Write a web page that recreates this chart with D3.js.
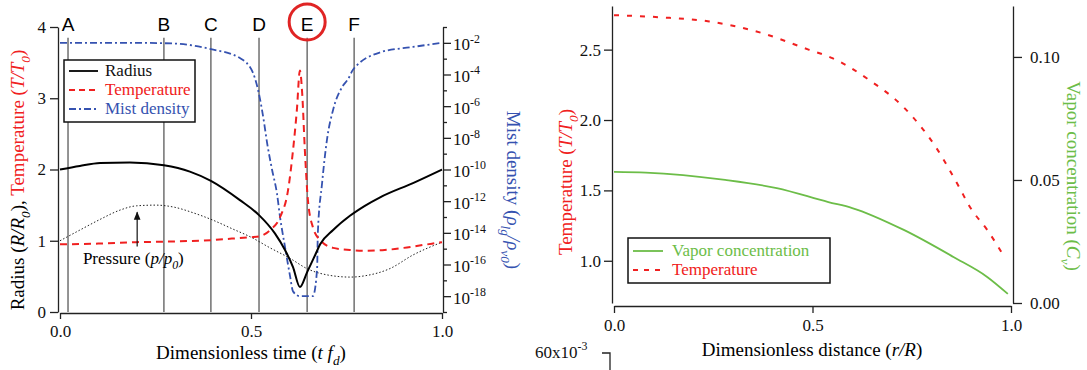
<!DOCTYPE html>
<html>
<head>
<meta charset="utf-8">
<script src="https://cdn.jsdelivr.net/npm/d3@7"></script>
<style>
  body { margin: 0; background: #fff; }
  svg { display: block; }
</style>
</head>
<body>
<div id="chart"></div>
<script>
// ---- left panel: bubble collapse over one cycle ----
const phaseT = [0.021, 0.272, 0.395, 0.521, 0.647, 0.77];
const phaseLabels = ['A', 'B', 'C', 'D', 'E', 'F'];

const radiusT = [0, 0.052, 0.105, 0.183, 0.272, 0.34, 0.395, 0.471, 0.521, 0.563, 0.589, 0.61, 0.628, 0.647, 0.668, 0.681, 0.715, 0.759, 0.798, 0.838, 0.924, 1.0];
const radius = [2.0, 2.05, 2.09, 2.1, 2.06, 1.97, 1.84, 1.57, 1.36, 1.1, 0.87, 0.63, 0.35, 0.56, 0.8, 0.95, 1.15, 1.35, 1.49, 1.61, 1.81, 2.0];

const tempT = [0, 0.1, 0.2, 0.3, 0.4, 0.45, 0.5, 0.521, 0.55, 0.576, 0.597, 0.61, 0.62, 0.628, 0.634, 0.641, 0.649, 0.662, 0.681, 0.715, 0.759, 0.8, 0.85, 0.9, 0.95, 1.0];
const temp = [0.95, 0.96, 0.98, 0.99, 1.01, 1.03, 1.05, 1.06, 1.15, 1.33, 1.71, 2.27, 2.83, 3.39, 3.07, 2.27, 1.57, 1.19, 1.01, 0.9, 0.87, 0.86, 0.87, 0.9, 0.94, 0.98];

const mistT = [0, 0.2, 0.3, 0.395, 0.471, 0.505, 0.524, 0.534, 0.542, 0.555, 0.568, 0.576, 0.589, 0.602, 0.61, 0.628, 0.662, 0.673, 0.675, 0.686, 0.699, 0.715, 0.741, 0.754, 0.767, 0.838, 0.924, 1.0];
const mist = [1e-2, 1e-2, 9e-3, 4e-3, 1.1e-3, 1.3e-4, 2.5e-6, 1e-7, 5e-9, 1e-10, 3e-12, 1e-13, 1.3e-15, 2e-17, 2e-18, 1e-18, 1e-18, 5e-17, 1e-14, 1.3e-11, 8e-9, 6e-7, 2e-5, 5e-5, 2e-4, 2.5e-3, 5.5e-3, 1e-2];

const pressT = [0, 0.052, 0.105, 0.157, 0.2, 0.25, 0.3, 0.35, 0.4, 0.45, 0.5, 0.55, 0.6, 0.65, 0.7, 0.76, 0.8, 0.864, 0.924, 1.0];
const pressure = [1.0, 1.15, 1.3, 1.43, 1.49, 1.5, 1.47, 1.39, 1.29, 1.17, 1.05, 0.9, 0.76, 0.6, 0.52, 0.49, 0.51, 0.61, 0.8, 0.98];

// ---- right panel: radial profiles ----
const distR = [0, 0.116, 0.24, 0.37, 0.49, 0.55, 0.645, 0.73, 0.81, 0.87, 0.897, 0.94, 0.985];
const tempR = [2.745, 2.73, 2.7, 2.62, 2.5, 2.44, 2.28, 2.09, 1.81, 1.52, 1.38, 1.22, 1.02];
const vaporR = [0, 0.08, 0.28, 0.41, 0.54, 0.6, 0.73, 0.855, 0.94, 0.992];
const vapor = [0.0533, 0.053, 0.05, 0.0467, 0.041, 0.0386, 0.0297, 0.0187, 0.0106, 0.0037];

const RED = '#f02020', BLUE = '#3552b0', GREEN = '#6cbd48';
const SERIF = '"Liberation Serif", "Times New Roman", serif';
const SANS = '"Liberation Sans", Arial, sans-serif';

const svg = d3.select('#chart').append('svg')
  .attr('width', 1087).attr('height', 370);

// rich text helper: parts with italic / subscript / superscript
function rich(sel, parts, size) {
  let shift = 0;
  sel.style('font-size', size + 'px');
  parts.forEach(p => {
    const target = p.sub ? size * 0.3 : p.sup ? -size * 0.45 : 0;
    const ts = sel.append('tspan').text(p.t).attr('dy', target - shift);
    shift = target;
    if (p.sub || p.sup) ts.style('font-size', (size * 0.7) + 'px');
    if (p.it) ts.style('font-style', 'italic');
    if (p.fill) ts.attr('fill', p.fill);
  });
}

const zip = (xs, ys) => xs.map((x, i) => [x, ys[i]]);

function styleAxis(g) {
  g.attr('font-family', null).attr('font-size', null);
  g.selectAll('path, line').attr('stroke', '#222').attr('stroke-width', 1.3);
  g.selectAll('text').attr('fill', '#111').style('font-size', '17px');
}

// =================== LEFT PANEL ===================
const xL = d3.scaleLinear().domain([0, 1]).range([60, 442]);
const yL = d3.scaleLinear().domain([0, 4]).range([312, 27]);
const yM = d3.scaleLog().domain([1e-19, 1e-1]).range([312, 27]);

// phase markers
phaseT.forEach((t, i) => {
  svg.append('line')
    .attr('x1', xL(t)).attr('x2', xL(t))
    .attr('y1', yL(3.85)).attr('y2', yL(0))
    .attr('stroke', '#707070').attr('stroke-width', 1.5);
  svg.append('text').attr('class', 'sans')
    .attr('x', xL(t)).attr('y', yL(3.94))
    .attr('text-anchor', 'middle')
    .style('font-size', '19px')
    .text(phaseLabels[i]);
});
svg.append('circle')
  .attr('cx', xL(phaseT[4])).attr('cy', 22).attr('r', 18)
  .attr('fill', 'none').attr('stroke', '#e02424').attr('stroke-width', 3);

// axes
svg.append('g')
  .attr('transform', 'translate(58,0)')
  .call(d3.axisLeft(yL).tickValues([0, 1, 2, 3, 4]).tickFormat(d3.format('d'))
    .tickSize(8).tickSizeOuter(0).tickPadding(4))
  .call(styleAxis);

svg.append('g')
  .attr('transform', 'translate(0,313)')
  .call(d3.axisBottom(xL).tickValues([0, 0.5, 1]).tickFormat(d3.format('.1f'))
    .tickSize(6).tickSizeOuter(0).tickPadding(6))
  .call(styleAxis);

const logTicks = d3.range(-19, 0).map(e => Math.pow(10, e));
const mAxis = svg.append('g')
  .attr('transform', 'translate(443,0)')
  .call(d3.axisRight(yM).tickValues(logTicks).tickFormat(() => '')
    .tickSize(8).tickSizeOuter(0))
  .call(styleAxis);
mAxis.selectAll('.tick').each(function(d) {
  const e = Math.round(Math.log10(d));
  const g = d3.select(this);
  if (e % 2 !== 0) { g.select('line').attr('x2', 4); return; }
  const t = g.append('text').attr('x', 10).attr('y', 7).attr('dy', 0)
    .attr('fill', '#111').attr('text-anchor', 'start');
  rich(t, [{ t: '10' }, { t: String(e), sup: true }], 17);
});

// axis titles
const ltitle = svg.append('text')
  .attr('transform', 'translate(24,180) rotate(-90)')
  .attr('text-anchor', 'middle');
rich(ltitle, [
  { t: 'Radius (' }, { t: 'R/R', it: true }, { t: '0', it: true, sub: true }, { t: '), ' },
  { t: 'Temperature (', fill: RED }, { t: 'T/T', it: true, fill: RED },
  { t: '0', it: true, sub: true, fill: RED }, { t: ')', fill: RED }
], 19);

const mtitle = svg.append('text')
  .attr('transform', 'translate(507,190) rotate(90)')
  .attr('text-anchor', 'middle').attr('fill', BLUE);
rich(mtitle, [
  { t: 'Mist density  (' }, { t: 'ρ', it: true }, { t: 'lg', it: true, sub: true },
  { t: '/ρ', it: true }, { t: 'v0', it: true, sub: true }, { t: ')' }
], 19);

const xtitle = svg.append('text')
  .attr('x', 251).attr('y', 359).attr('text-anchor', 'middle');
rich(xtitle, [
  { t: 'Dimensionless time (' }, { t: 't f', it: true }, { t: 'd', it: true, sub: true }, { t: ')' }
], 19);

// curves
const lineL = d3.line().x(d => xL(d[0])).y(d => yL(d[1])).curve(d3.curveMonotoneX);
const lineM = d3.line().x(d => xL(d[0])).y(d => yM(d[1])).curve(d3.curveMonotoneX);

svg.append('path').datum(zip(pressT, pressure)).attr('d', lineL)
  .attr('fill', 'none').attr('stroke', '#222').attr('stroke-width', 1)
  .attr('stroke-dasharray', '1.5,2');
svg.append('path').datum(zip(mistT, mist)).attr('d', lineM)
  .attr('fill', 'none').attr('stroke', BLUE).attr('stroke-width', 1.8)
  .attr('stroke-dasharray', '7,3,2,3');
svg.append('path').datum(zip(tempT, temp)).attr('d', lineL)
  .attr('fill', 'none').attr('stroke', RED).attr('stroke-width', 2)
  .attr('stroke-dasharray', '7,5');
svg.append('path').datum(zip(radiusT, radius)).attr('d', lineL)
  .attr('fill', 'none').attr('stroke', '#000').attr('stroke-width', 2);

// pressure annotation
svg.append('defs').append('marker')
  .attr('id', 'arr').attr('viewBox', '0 0 10 10').attr('refX', 9).attr('refY', 5)
  .attr('markerWidth', 7).attr('markerHeight', 7).attr('orient', 'auto')
  .append('path').attr('d', 'M0,1 L10,5 L0,9 Z').attr('fill', '#111');
svg.append('line')
  .attr('x1', xL(0.202)).attr('x2', xL(0.202))
  .attr('y1', yL(0.92)).attr('y2', yL(1.4))
  .attr('stroke', '#111').attr('stroke-width', 1.2).attr('marker-end', 'url(#arr)');
const ptext = svg.append('text').attr('x', xL(0.06)).attr('y', yL(0.67));
rich(ptext, [{ t: 'Pressure (' }, { t: 'p/p', it: true }, { t: '0', it: true, sub: true }, { t: ')' }], 17);

// legend
const lg = svg.append('g');
lg.append('rect').attr('x', 64).attr('y', 60).attr('width', 131).attr('height', 62)
  .attr('fill', '#fff').attr('stroke', '#111').attr('stroke-width', 1.5);
const legL = [
  { name: 'Radius', color: '#000', dash: null, txt: '#111' },
  { name: 'Temperature', color: RED, dash: '6,4', txt: RED },
  { name: 'Mist density', color: BLUE, dash: '7,3,2,3', txt: BLUE }
];
legL.forEach((d, i) => {
  const y = 71 + i * 19;
  lg.append('line').attr('x1', 69).attr('x2', 98).attr('y1', y).attr('y2', y)
    .attr('stroke', d.color).attr('stroke-width', 1.8)
    .attr('stroke-dasharray', d.dash);
  lg.append('text').attr('x', 105).attr('y', y + 5).attr('fill', d.txt)
    .style('font-size', '17px').text(d.name);
});

// =================== RIGHT PANEL ===================
const xR = d3.scaleLinear().domain([0, 1]).range([614, 1011]);
const yT = d3.scaleLinear().domain([0.70, 2.81]).range([303, 6]);
const yC = d3.scaleLinear().domain([0, 0.1207]).range([303, 6]);

svg.append('g')
  .attr('transform', 'translate(612,0)')
  .call(d3.axisLeft(yT).tickValues([1.0, 1.5, 2.0, 2.5]).tickFormat(d3.format('.1f'))
    .tickSize(8).tickSizeOuter(0).tickPadding(3))
  .call(styleAxis);
svg.append('g')
  .attr('transform', 'translate(1013,0)')
  .call(d3.axisRight(yC).tickValues([0, 0.05, 0.10]).tickFormat(d3.format('.2f'))
    .tickSize(9).tickSizeOuter(0).tickPadding(8))
  .call(styleAxis);
svg.append('g')
  .attr('transform', 'translate(0,306)')
  .call(d3.axisBottom(xR).tickValues([0, 0.5, 1]).tickFormat(d3.format('.1f'))
    .tickSize(7).tickSizeOuter(0).tickPadding(6))
  .call(styleAxis);

const ttitle = svg.append('text')
  .attr('transform', 'translate(572,182) rotate(-90)')
  .attr('text-anchor', 'middle').attr('fill', RED);
rich(ttitle, [{ t: 'Temperature (' }, { t: 'T/T', it: true }, { t: '0', it: true, sub: true }, { t: ')' }], 19);

const ctitle = svg.append('text')
  .attr('transform', 'translate(1067,176) rotate(90)')
  .attr('text-anchor', 'middle').attr('fill', GREEN);
rich(ctitle, [{ t: 'Vapor concentration (' }, { t: 'C', it: true }, { t: 'v', it: true, sub: true }, { t: ')' }], 19);

const dtitle = svg.append('text')
  .attr('x', 812).attr('y', 356).attr('text-anchor', 'middle');
rich(dtitle, [{ t: 'Dimensionless distance (' }, { t: 'r/R', it: true }, { t: ')' }], 19);

// stray axis fragment below
const frag = svg.append('text').attr('x', 535).attr('y', 358).attr('fill', '#111');
rich(frag, [{ t: '60x10' }, { t: '-3', sup: true }], 17);
svg.append('path').attr('d', 'M602,353H610V370')
  .attr('fill', 'none').attr('stroke', '#222').attr('stroke-width', 1.3);

const lineT = d3.line().x(d => xR(d[0])).y(d => yT(d[1])).curve(d3.curveMonotoneX);
const lineC = d3.line().x(d => xR(d[0])).y(d => yC(d[1])).curve(d3.curveMonotoneX);

svg.append('path').datum(zip(vaporR, vapor)).attr('d', lineC)
  .attr('fill', 'none').attr('stroke', GREEN).attr('stroke-width', 1.8);
svg.append('path').datum(zip(distR, tempR)).attr('d', lineT)
  .attr('fill', 'none').attr('stroke', RED).attr('stroke-width', 2)
  .attr('stroke-dasharray', '5,8');

const lgR = svg.append('g');
lgR.append('rect').attr('x', 628).attr('y', 238).attr('width', 202).attr('height', 45)
  .attr('fill', '#fff').attr('stroke', '#111').attr('stroke-width', 1.5);
const legR = [
  { name: 'Vapor concentration', color: GREEN, dash: null },
  { name: 'Temperature', color: RED, dash: '5,6' }
];
legR.forEach((d, i) => {
  const y = 251 + i * 19;
  lgR.append('line').attr('x1', 633).attr('x2', 663).attr('y1', y).attr('y2', y)
    .attr('stroke', d.color).attr('stroke-width', 1.8)
    .attr('stroke-dasharray', d.dash);
  lgR.append('text').attr('x', 672).attr('y', y + 5).attr('fill', d.color)
    .style('font-size', '17px').text(d.name);
});

// fonts set inline on every text (serif everywhere, sans for phase letters)
svg.selectAll('text').style('font-family', SERIF);
svg.selectAll('text.sans').style('font-family', SANS);
</script>
</body>
</html>
